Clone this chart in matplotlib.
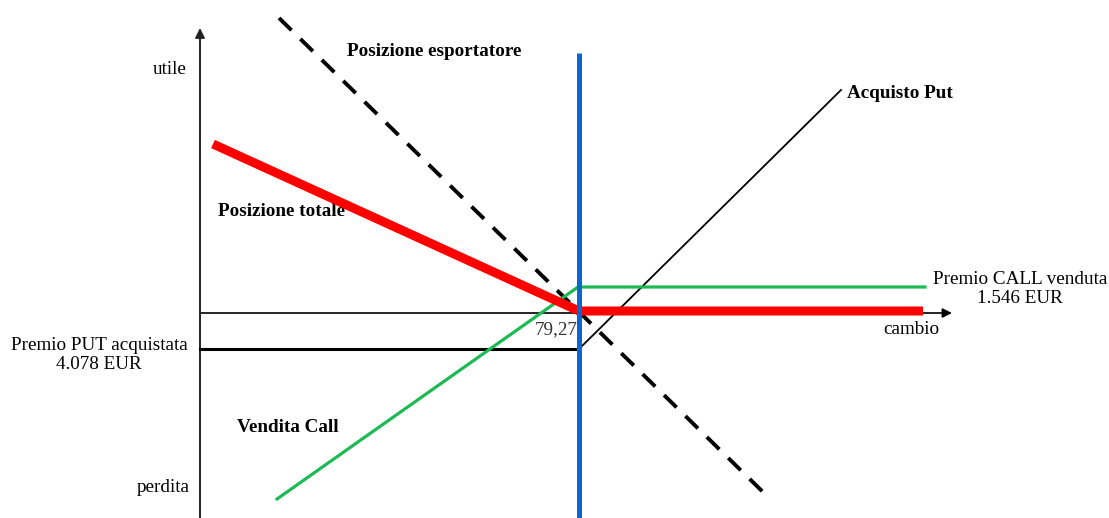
import matplotlib
matplotlib.use("Agg")
import matplotlib.pyplot as plt

plt.rcParams["font.family"] = ["Liberation Serif", "DejaVu Serif"]

# schematic units: x = exchange rate axis (origin at the y axis), y = profit/loss
STRIKE_X = 37.9
STRIKE_LABEL = "79,27"

# posizione esportatore (dashed)
esp_x = [7.9, 56.4]
esp_y = [29.5, -18.0]

# posizione totale (red)
tot_x = [1.3, 37.9, 72.3]
tot_y = [16.9, 0.2, 0.2]

# acquisto put (black)
put_x = [0.0, 37.9, 64.1]
put_y = [-3.6, -3.6, 22.3]

# vendita call (green)
call_x = [7.7, 37.8, 72.5]
call_y = [-18.6, 2.6, 2.6]

# strike line (blue)
strike_y = [26.0, -20.6]

# axis extents
x_axis_end = 75.2
y_axis_top = 28.5
y_axis_bottom = -20.6

fig = plt.figure(figsize=(11.09, 5.18), dpi=100)
ax = fig.add_axes([0, 0, 1, 1])
ax.set_xlim(-20.0, 90.9)
ax.set_ylim(-20.5, 31.3)
ax.axis("off")

# assi
ax.annotate("", xy=(x_axis_end, 0), xytext=(0, 0),
            arrowprops=dict(arrowstyle="-|>", lw=1.2, color="black",
                            mutation_scale=14, shrinkA=0, shrinkB=0))
ax.annotate("", xy=(0, y_axis_top), xytext=(0, y_axis_bottom),
            arrowprops=dict(arrowstyle="-|>", lw=1.4, color="#222222",
                            mutation_scale=14, shrinkA=0, shrinkB=0))

# linee
ax.plot(esp_x, esp_y, color="black", lw=2.8, ls=(0, (4.5, 3.2)), zorder=3)
ax.plot(put_x[:2], put_y[:2], color="black", lw=2.2, zorder=3)
ax.plot(put_x[1:], put_y[1:], color="black", lw=1.3, zorder=3)
ax.plot(call_x, call_y, color="#1db954", lw=2.3, zorder=4,
        solid_joinstyle="miter")
ax.plot(tot_x, tot_y, color="#ff0000", lw=6.5, zorder=5,
        solid_capstyle="butt")
ax.plot([STRIKE_X, STRIKE_X], strike_y, color="#0a66d0", lw=3.6, zorder=6,
        solid_capstyle="butt")

# testi
fs = 13.8
ax.text(-1.3, 24.3, "utile", fontsize=fs, ha="right", va="center")
ax.text(-1.0, -17.4, "perdita", fontsize=fs, ha="right", va="center")
ax.text(-10.1, -4.2, "Premio PUT acquistata\n4.078 EUR", fontsize=fs,
        ha="center", va="center", linespacing=1.15)
ax.text(82.0, 2.4, "Premio CALL venduta\n1.546 EUR", fontsize=fs,
        ha="center", va="center", linespacing=1.15)
ax.text(STRIKE_X - 0.1, -1.7, STRIKE_LABEL, fontsize=fs, ha="right",
        va="center", color="#333333")
ax.text(68.3, -1.7, "cambio", fontsize=fs, ha="left", va="center")
ax.text(14.7, 26.1, "Posizione esportatore", fontsize=fs,
        fontweight="bold", ha="left", va="center")
ax.text(64.7, 22.0, "Acquisto Put", fontsize=fs, fontweight="bold",
        ha="left", va="center")
ax.text(1.8, 10.2, "Posizione totale", fontsize=fs, fontweight="bold",
        ha="left", va="center")
ax.text(3.7, -11.4, "Vendita Call", fontsize=fs, fontweight="bold",
        ha="left", va="center")

fig.savefig("out.png", dpi=100)
